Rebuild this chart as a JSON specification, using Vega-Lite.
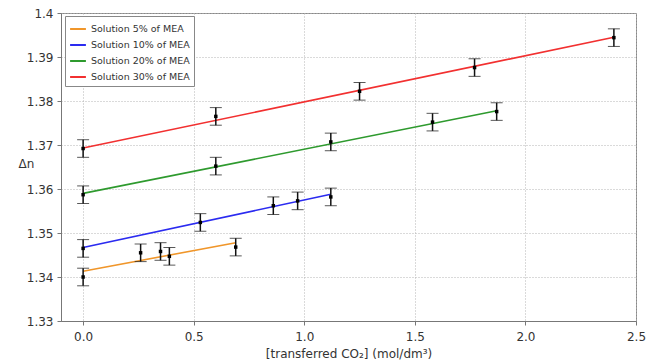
{
  "$schema": "https://vega.github.io/schema/vega-lite/v6.json",
  "autosize": "none",
  "padding": {"left": 61, "top": 13, "right": 12, "bottom": 39},
  "width": 575,
  "height": 308,
  "background": "white",
  "config": {
    "font": "DejaVu Sans",
    "view": {"stroke": "#888888", "strokeWidth": 1},
    "axis": {
      "grid": true,
      "gridColor": "#b5b5b5",
      "gridDash": [1, 2],
      "gridWidth": 1,
      "domainColor": "#777777",
      "tickColor": "#777777",
      "tickSize": 4,
      "labelFontSize": 12,
      "labelColor": "#333333",
      "labelFlush": false,
      "titleFontSize": 12,
      "titleColor": "#333333",
      "titleFontWeight": "normal"
    }
  },
  "datasets": {
    "pts": [
      {"s": "Solution 5% of MEA", "x": 0, "y": 1.3400},
      {"s": "Solution 5% of MEA", "x": 0.26, "y": 1.3455},
      {"s": "Solution 5% of MEA", "x": 0.35, "y": 1.3458},
      {"s": "Solution 5% of MEA", "x": 0.39, "y": 1.3447},
      {"s": "Solution 5% of MEA", "x": 0.69, "y": 1.3468},
      {"s": "Solution 10% of MEA", "x": 0, "y": 1.3465},
      {"s": "Solution 10% of MEA", "x": 0.53, "y": 1.3524},
      {"s": "Solution 10% of MEA", "x": 0.86, "y": 1.3562},
      {"s": "Solution 10% of MEA", "x": 0.97, "y": 1.3573},
      {"s": "Solution 10% of MEA", "x": 1.12, "y": 1.3582},
      {"s": "Solution 20% of MEA", "x": 0, "y": 1.3587},
      {"s": "Solution 20% of MEA", "x": 0.6, "y": 1.3652},
      {"s": "Solution 20% of MEA", "x": 1.12, "y": 1.3707},
      {"s": "Solution 20% of MEA", "x": 1.58, "y": 1.3752},
      {"s": "Solution 20% of MEA", "x": 1.87, "y": 1.3776},
      {"s": "Solution 30% of MEA", "x": 0, "y": 1.3692},
      {"s": "Solution 30% of MEA", "x": 0.6, "y": 1.3765},
      {"s": "Solution 30% of MEA", "x": 1.25, "y": 1.3822},
      {"s": "Solution 30% of MEA", "x": 1.77, "y": 1.3876},
      {"s": "Solution 30% of MEA", "x": 2.4, "y": 1.3944}
    ],
    "fit": [
      {"s": "Solution 5% of MEA", "x": 0, "y": 1.3413},
      {"s": "Solution 5% of MEA", "x": 0.69, "y": 1.3478},
      {"s": "Solution 10% of MEA", "x": 0, "y": 1.3467},
      {"s": "Solution 10% of MEA", "x": 1.12, "y": 1.3588},
      {"s": "Solution 20% of MEA", "x": 0, "y": 1.3590},
      {"s": "Solution 20% of MEA", "x": 1.87, "y": 1.3778},
      {"s": "Solution 30% of MEA", "x": 0, "y": 1.3693},
      {"s": "Solution 30% of MEA", "x": 2.4, "y": 1.3945}
    ]
  },
  "layer": [
    {
      "data": {"name": "fit"},
      "mark": {"type": "line", "strokeWidth": 1.6},
      "encoding": {
        "x": {"field": "x", "type": "quantitative", "title": "[transferred CO₂] (mol/dm³)",
              "scale": {"domain": [-0.1, 2.5], "nice": false, "zero": false},
              "axis": {"values": [0, 0.5, 1, 1.5, 2, 2.5], "labelPadding": 6, "titlePadding": 6}},
        "y": {"field": "y", "type": "quantitative", "title": "Δn",
              "scale": {"domain": [1.33, 1.4], "nice": false, "zero": false},
              "axis": {"values": [1.33, 1.34, 1.35, 1.36, 1.37, 1.38, 1.39, 1.4], "format": ".2~f", "labelPadding": 4, "titleAngle": 0, "titleAlign": "center", "titleBaseline": "middle", "titleX": -35, "titleY": 150}},
        "color": {"field": "s", "type": "nominal",
                  "scale": {"domain": ["Solution 5% of MEA", "Solution 10% of MEA", "Solution 20% of MEA", "Solution 30% of MEA"],
                            "range": ["#f0962a", "#2b2bf0", "#2e9a2e", "#f23030"]},
                  "legend": {"title": null, "orient": "none", "legendX": 4, "legendY": 3,
                             "symbolType": "stroke", "symbolSize": 250, "symbolStrokeWidth": 2,
                             "labelFontSize": 9.5, "labelColor": "#333333", "rowPadding": 2,
                             "strokeColor": "#888888", "fillColor": "white", "padding": 4}}
      }
    },
    {
      "data": {"name": "pts"},
      "transform": [
        {"calculate": "datum.y - 0.002", "as": "lo"},
        {"calculate": "datum.y + 0.002", "as": "hi"}
      ],
      "mark": {"type": "errorbar", "ticks": {"size": 12, "color": "#111111", "strokeWidth": 1.5}, "rule": {"color": "#111111", "strokeWidth": 1.5}},
      "encoding": {
        "x": {"field": "x", "type": "quantitative", "title": "[transferred CO₂] (mol/dm³)"},
        "y": {"field": "lo", "type": "quantitative", "title": "Δn"},
        "y2": {"field": "hi"}
      }
    },
    {
      "data": {"name": "pts"},
      "mark": {"type": "square", "size": 12, "color": "#000000", "opacity": 1, "filled": true},
      "encoding": {
        "x": {"field": "x", "type": "quantitative", "title": "[transferred CO₂] (mol/dm³)"},
        "y": {"field": "y", "type": "quantitative", "title": "Δn"}
      }
    }
  ]
}
